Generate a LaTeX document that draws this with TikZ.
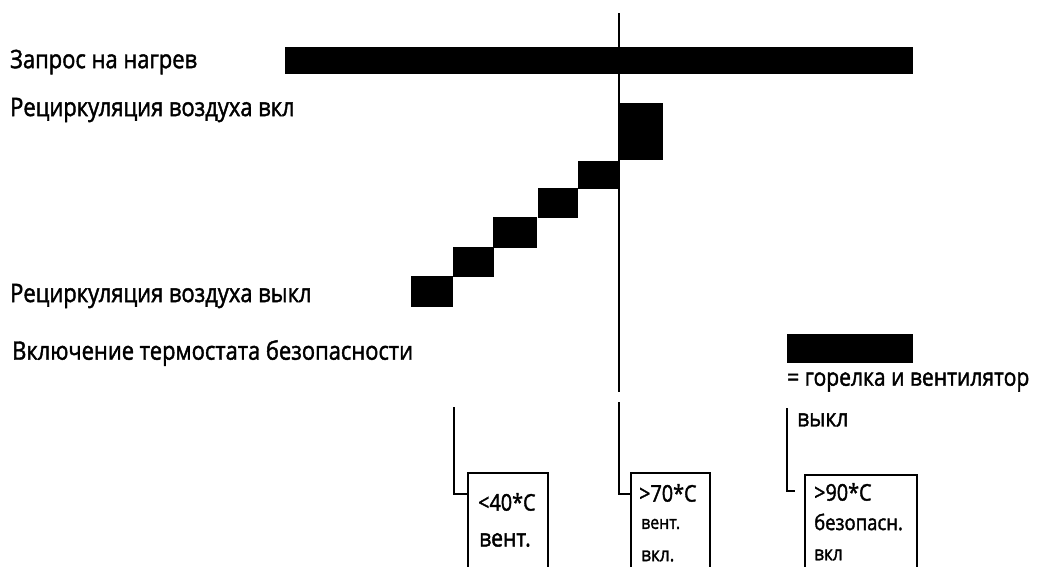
\documentclass[tikz,border=0pt]{standalone}
\usepackage{fontspec}
\setmainfont{Open Sans}[FakeStretch=0.86, FakeBold=1.6]
\usetikzlibrary{positioning}

\begin{document}
\begin{tikzpicture}[x=1pt, y=-1pt,
  rowlabel/.style={anchor=west, inner sep=0pt, font=\fontsize{25.5}{30}\selectfont},
  bigtemp/.style={anchor=west, inner sep=0pt, font=\fontsize{23}{27}\selectfont},
  smalltemp/.style={anchor=west, inner sep=0pt, font=\fontsize{20}{24}\selectfont},
  bar/.style={fill=black},
  tempbox/.style={draw, line width=2.4pt},
  bracket/.style={line width=1.8pt},
  timeline/.style={line width=1.1pt}
]
\useasboundingbox (0,0) rectangle (1039,566);
\clip (0,0) rectangle (1039,566);

% row labels
\node[rowlabel] (request) at (10,62) {Запрос на нагрев};
\node[rowlabel] (recircOn) at (10,110) {Рециркуляция воздуха вкл};
\node[rowlabel] (recircOff) at (10,296) {Рециркуляция воздуха выкл};
\node[rowlabel] (safety) at (12,353) {Включение термостата безопасности};

% bars
\fill[bar] (285,47) rectangle (913,74);
\fill[bar] (619,103) rectangle (663,160);
\foreach \xa/\ya/\xb/\yb in {411/276/453/307, 453/247/494/277, 493/217/537/248,
                             538/188/578/218, 578/161/619/189}
  \fill[bar] (\xa,\ya) rectangle (\xb,\yb);
\fill[bar] (787,334) rectangle (913,363);

% legend of the safety bar
\node[rowlabel, font=\fontsize{24.5}{29}\selectfont] (legend) at (787,382) {= горелка и вентилятор};
\node[rowlabel, font=\fontsize{24.5}{29}\selectfont] (legendOff) at (797,420) {выкл};

% time line
\coordinate (tTop) at (619,13);
\coordinate (tEnd) at (619,392);
\draw[timeline] (tTop) -- (tEnd);

% temperature boxes
\draw[tempbox] (468,473) rectangle (548,600);
\draw[tempbox] (631,473) rectangle (710,600);
\draw[tempbox] (805,475) rectangle (917,600);
\coordinate (boxA) at (468,494);
\coordinate (boxB) at (631,494);
\coordinate (boxC) at (795,491);

\node[bigtemp] (tempA) at (478,502) {<40*C};
\node[bigtemp, font=\fontsize{24.5}{29}\selectfont] (ventA) at (479,540) {вент.};
\node[bigtemp] (tempB) at (639,493) {>70*C};
\node[smalltemp, font=\fontsize{18.5}{22}\selectfont] (ventB) at (641,524) {вент.};
\node[smalltemp] (onB) at (641,556) {вкл.};
\node[bigtemp] (tempC) at (814,492) {>90*C};
\node[smalltemp, font=\fontsize{21.5}{26}\selectfont] (safeC) at (814,522) {безопасн.};
\node[smalltemp] (onC) at (814,555) {вкл};

% brackets
\coordinate (markA) at (454,407);
\coordinate (markB) at (619,402);
\coordinate (markC) at (787,408);
\draw[bracket] (markA) |- (boxA);
\draw[bracket] (markB) |- (boxB);
\draw[bracket] (markC) |- (boxC);
\end{tikzpicture}
\end{document}
